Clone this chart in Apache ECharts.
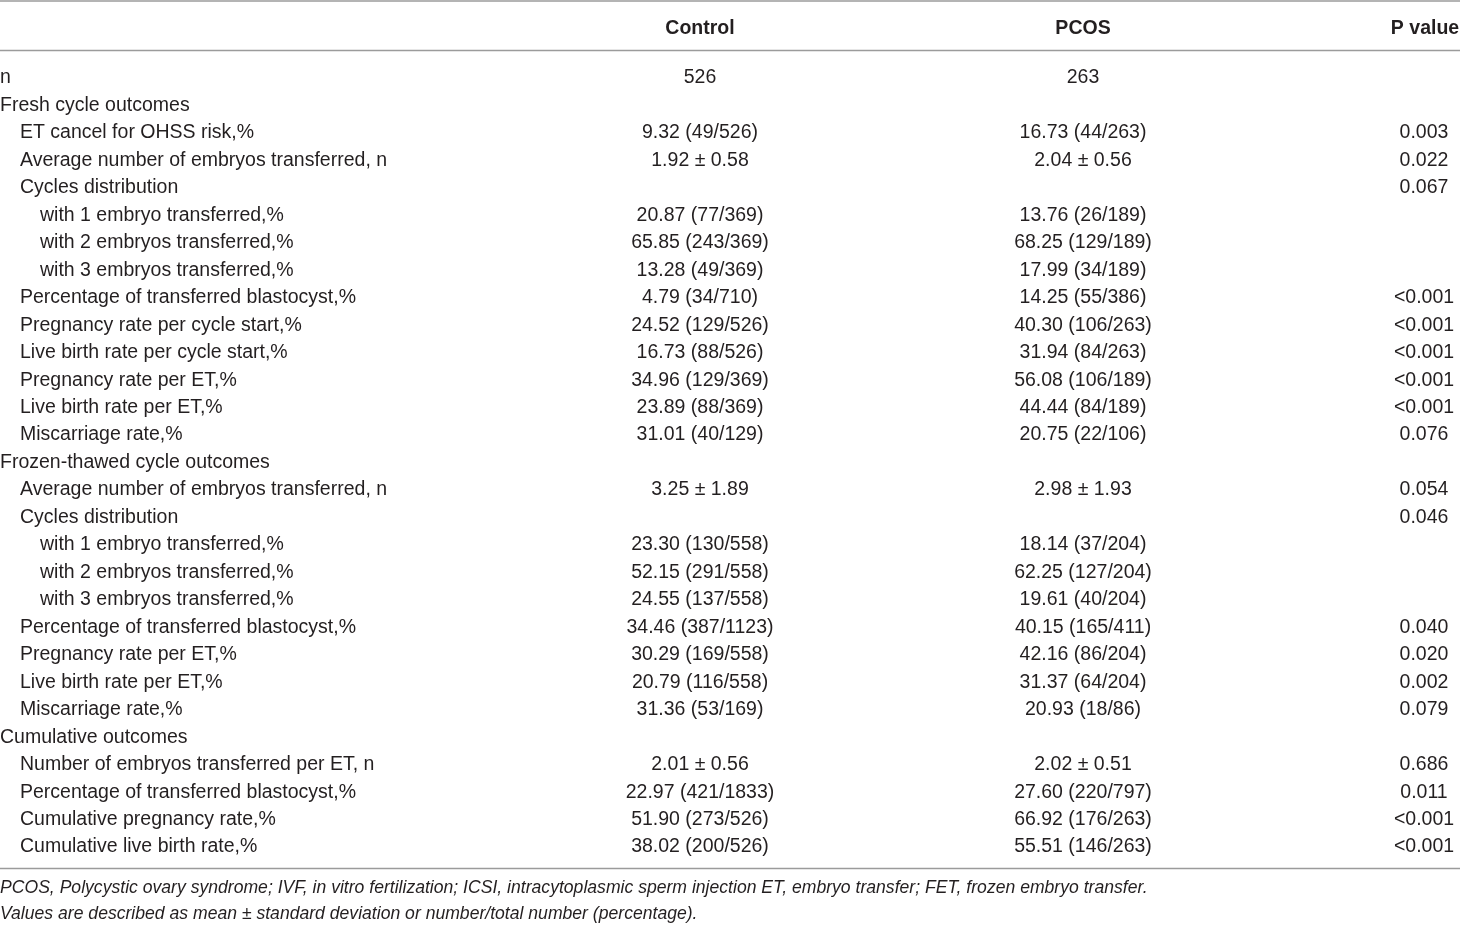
<!DOCTYPE html>
<html>
<head>
<meta charset="utf-8">
<script src="https://cdn.jsdelivr.net/npm/echarts@6/dist/echarts.min.js"></script>
<style>
  html, body { margin: 0; padding: 0; background: #fff; }
  #table-chart { width: 1460px; height: 926px; }
</style>
</head>
<body>
<div id="table-chart"></div>
<script>
// Table data
var headers = ['', 'Control', 'PCOS', 'P value'];

var rowLabels = [
    'n',
    'Fresh cycle outcomes',
    'ET cancel for OHSS risk,%',
    'Average number of embryos transferred, n',
    'Cycles distribution',
    'with 1 embryo transferred,%',
    'with 2 embryos transferred,%',
    'with 3 embryos transferred,%',
    'Percentage of transferred blastocyst,%',
    'Pregnancy rate per cycle start,%',
    'Live birth rate per cycle start,%',
    'Pregnancy rate per ET,%',
    'Live birth rate per ET,%',
    'Miscarriage rate,%',
    'Frozen-thawed cycle outcomes',
    'Average number of embryos transferred, n',
    'Cycles distribution',
    'with 1 embryo transferred,%',
    'with 2 embryos transferred,%',
    'with 3 embryos transferred,%',
    'Percentage of transferred blastocyst,%',
    'Pregnancy rate per ET,%',
    'Live birth rate per ET,%',
    'Miscarriage rate,%',
    'Cumulative outcomes',
    'Number of embryos transferred per ET, n',
    'Percentage of transferred blastocyst,%',
    'Cumulative pregnancy rate,%',
    'Cumulative live birth rate,%'
];

var rowLevels = [0, 0, 1, 1, 1, 2, 2, 2, 1, 1, 1, 1, 1, 1,
                 0, 1, 1, 2, 2, 2, 1, 1, 1, 1,
                 0, 1, 1, 1, 1];

var controlValues = [
    '526', '', '9.32 (49/526)', '1.92 ± 0.58', '',
    '20.87 (77/369)', '65.85 (243/369)', '13.28 (49/369)',
    '4.79 (34/710)', '24.52 (129/526)', '16.73 (88/526)',
    '34.96 (129/369)', '23.89 (88/369)', '31.01 (40/129)',
    '', '3.25 ± 1.89', '',
    '23.30 (130/558)', '52.15 (291/558)', '24.55 (137/558)',
    '34.46 (387/1123)', '30.29 (169/558)', '20.79 (116/558)', '31.36 (53/169)',
    '', '2.01 ± 0.56', '22.97 (421/1833)', '51.90 (273/526)', '38.02 (200/526)'
];

var pcosValues = [
    '263', '', '16.73 (44/263)', '2.04 ± 0.56', '',
    '13.76 (26/189)', '68.25 (129/189)', '17.99 (34/189)',
    '14.25 (55/386)', '40.30 (106/263)', '31.94 (84/263)',
    '56.08 (106/189)', '44.44 (84/189)', '20.75 (22/106)',
    '', '2.98 ± 1.93', '',
    '18.14 (37/204)', '62.25 (127/204)', '19.61 (40/204)',
    '40.15 (165/411)', '42.16 (86/204)', '31.37 (64/204)', '20.93 (18/86)',
    '', '2.02 ± 0.51', '27.60 (220/797)', '66.92 (176/263)', '55.51 (146/263)'
];

var pValues = [
    '', '', '0.003', '0.022', '0.067',
    '', '', '',
    '<0.001', '<0.001', '<0.001', '<0.001', '<0.001', '0.076',
    '', '0.054', '0.046',
    '', '', '',
    '0.040', '0.020', '0.002', '0.079',
    '', '0.686', '0.011', '<0.001', '<0.001'
];

var footnotes = [
    'PCOS, Polycystic ovary syndrome; IVF, in vitro fertilization; ICSI, intracytoplasmic sperm injection ET, embryo transfer; FET, frozen embryo transfer.',
    'Values are described as mean ± standard deviation or number/total number (percentage).'
];

var FONT = '"Liberation Sans", Arial, Helvetica, sans-serif';
var TEXT_COLOR = '#231f20';
var LINE_COLOR = '#9b9b9b';

var chart_table = echarts.init(document.getElementById('table-chart'));

// one custom series per column, rows go through the category axis
function columnSeries(name, x, texts, align, indentStep) {
    return {
        name: name,
        type: 'custom',
        coordinateSystem: 'cartesian2d',
        silent: true,
        data: texts.map(function (t, i) { return [x, i]; }),
        renderItem: function (params, api) {
            var i = params.dataIndex;
            var pt = api.coord([api.value(0), api.value(1)]);
            var indent = indentStep ? rowLevels[i] * indentStep : 0;
            return {
                type: 'text',
                style: {
                    text: texts[i],
                    x: pt[0] + indent,
                    y: pt[1],
                    align: align,
                    verticalAlign: 'middle',
                    font: '19.5px ' + FONT,
                    fill: TEXT_COLOR
                }
            };
        }
    };
}

var option_table = {
    animation: false,
    grid: {
        left: 0,
        right: 0,
        top: 64.3,
        height: 796.5
    },
    xAxis: {
        type: 'value',
        min: 0,
        max: 1460,
        show: false
    },
    yAxis: {
        type: 'category',
        inverse: true,
        data: rowLabels.map(function (t, i) { return String(i); }),
        show: false
    },
    graphic: [
        { type: 'line', shape: { x1: 0, y1: 1, x2: 1460, y2: 1 }, style: { stroke: LINE_COLOR, lineWidth: 1.6 } },
        { type: 'line', shape: { x1: 0, y1: 50.5, x2: 1460, y2: 50.5 }, style: { stroke: LINE_COLOR, lineWidth: 1.6 } },
        { type: 'line', shape: { x1: 0, y1: 868.5, x2: 1460, y2: 868.5 }, style: { stroke: LINE_COLOR, lineWidth: 1.6 } },
        { type: 'text', x: 700, y: 28.5, style: { text: headers[1], align: 'center', verticalAlign: 'middle', font: 'bold 19.5px ' + FONT, fill: TEXT_COLOR } },
        { type: 'text', x: 1083, y: 28.5, style: { text: headers[2], align: 'center', verticalAlign: 'middle', font: 'bold 19.5px ' + FONT, fill: TEXT_COLOR } },
        { type: 'text', x: 1425, y: 28.5, style: { text: headers[3], align: 'center', verticalAlign: 'middle', font: 'bold 19.5px ' + FONT, fill: TEXT_COLOR } },
        { type: 'text', x: 0, y: 888, style: { text: footnotes[0], align: 'left', verticalAlign: 'middle', font: 'italic 17.6px ' + FONT, fill: TEXT_COLOR } },
        { type: 'text', x: 0, y: 914.5, style: { text: footnotes[1], align: 'left', verticalAlign: 'middle', font: 'italic 17.6px ' + FONT, fill: TEXT_COLOR } }
    ],
    series: [
        columnSeries('Label', 0, rowLabels, 'left', 20),
        columnSeries('Control', 700, controlValues, 'center', 0),
        columnSeries('PCOS', 1083, pcosValues, 'center', 0),
        columnSeries('P value', 1424, pValues, 'center', 0)
    ]
};

chart_table.setOption(option_table);
</script>
</body>
</html>
